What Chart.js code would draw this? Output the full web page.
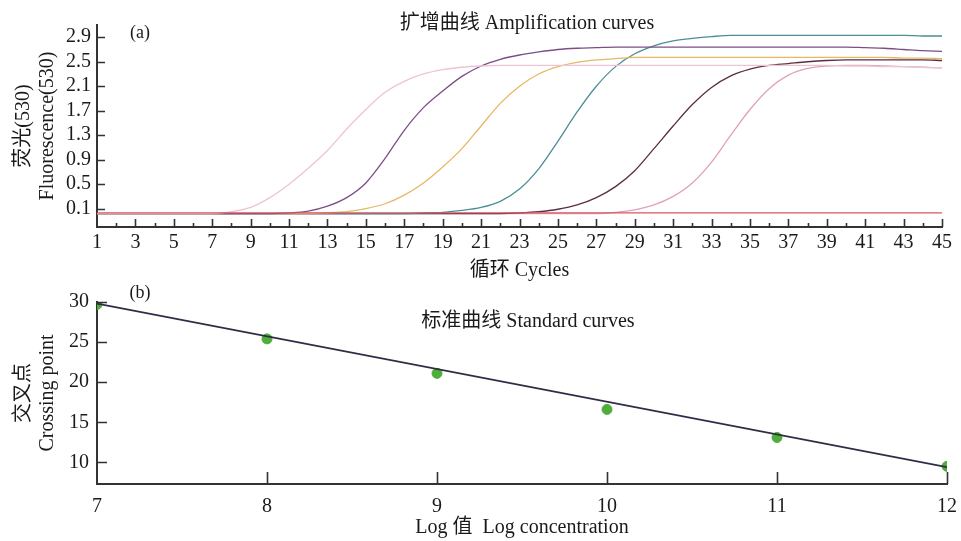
<!DOCTYPE html>
<html>
<head>
<meta charset="utf-8">
<script src="https://cdn.jsdelivr.net/npm/chart.js@4.4.0/dist/chart.umd.min.js"></script>
<style>
  body { margin: 0; background: #fff; }
  #page { position: relative; width: 961px; height: 541px; overflow: hidden; font-family: 'Liberation Serif', 'Noto Sans CJK SC', serif; color: #1a1a1a; }
  .box { position: absolute; left: 0; }
  .lbl { position: absolute; transform: translate(-50%, -50%); white-space: nowrap; line-height: 1; }
</style>
</head>
<body>
<div id="page">
  <div class="box" style="top:0"><canvas id="amp" width="961" height="290"></canvas></div>
  <div class="box" style="top:280px"><canvas id="std" width="961" height="261"></canvas></div>
  <div class="lbl" style="left:140px; top:32px; font-size:18px">(a)</div>
  <div class="lbl" style="left:527px; top:22px; font-size:20px">扩增曲线 Amplification curves</div>
  <div class="lbl" style="left:140px; top:292px; font-size:18px">(b)</div>
  <div class="lbl" style="left:528px; top:320px; font-size:20px">标准曲线 Standard curves</div>
</div>
<script>
// (a) amplification curves, fluorescence per cycle
const cycles = [1,2,3,4,5,6,7,8,9,10,11,12,13,14,15,16,17,18,19,20,21,22,23,24,25,26,27,28,29,30,31,32,33,34,35,36,37,38,39,40,41,42,43,44,45]
const cycleLabels = [1,3,5,7,9,11,13,15,17,19,21,23,25,27,29,31,33,35,37,39,41,43,45]
const fluoTicks = [0.1, 0.5, 0.9, 1.3, 1.7, 2.1, 2.5, 2.9]
const fluoMinor = [0.3, 0.7, 1.1, 1.5, 1.9, 2.3, 2.7, 3.1]

const curveA = [0.02,0.02,0.02,0.02,0.02,0.02,0.02,0.05,0.12,0.28,0.5,0.76,1.05,1.4,1.72,2.0,2.18,2.3,2.37,2.41,2.43,2.44,2.44,2.44,2.44,2.44,2.44,2.44,2.44,2.44,2.44,2.44,2.44,2.44,2.44,2.44,2.44,2.44,2.44,2.43,2.43,2.42,2.42,2.41,2.4]
const curveB = [0.02,0.02,0.02,0.02,0.02,0.02,0.02,0.02,0.02,0.02,0.03,0.06,0.14,0.28,0.52,0.92,1.38,1.75,2.02,2.26,2.43,2.54,2.61,2.66,2.7,2.72,2.73,2.74,2.74,2.74,2.74,2.74,2.74,2.74,2.74,2.74,2.74,2.74,2.74,2.74,2.73,2.72,2.7,2.68,2.67]
const curveC = [0.02,0.02,0.02,0.02,0.02,0.02,0.02,0.02,0.02,0.02,0.02,0.02,0.03,0.05,0.1,0.18,0.32,0.52,0.78,1.08,1.45,1.82,2.1,2.3,2.42,2.49,2.53,2.55,2.57,2.57,2.57,2.57,2.57,2.57,2.57,2.57,2.57,2.57,2.57,2.57,2.57,2.57,2.56,2.56,2.55]
const curveD = [0.02,0.02,0.02,0.02,0.02,0.02,0.02,0.02,0.02,0.02,0.02,0.02,0.02,0.02,0.02,0.02,0.02,0.03,0.04,0.07,0.12,0.22,0.42,0.75,1.2,1.68,2.1,2.42,2.63,2.76,2.84,2.88,2.91,2.93,2.93,2.93,2.93,2.93,2.93,2.93,2.93,2.93,2.93,2.92,2.92]
const curveE = [0.02,0.02,0.02,0.02,0.02,0.02,0.02,0.02,0.02,0.02,0.02,0.02,0.02,0.02,0.02,0.02,0.02,0.02,0.02,0.02,0.02,0.02,0.03,0.05,0.09,0.16,0.28,0.46,0.72,1.08,1.45,1.8,2.08,2.27,2.38,2.44,2.47,2.5,2.52,2.53,2.53,2.53,2.53,2.53,2.52]
const curveF = [0.02,0.02,0.02,0.02,0.02,0.02,0.02,0.02,0.02,0.02,0.02,0.02,0.02,0.02,0.02,0.02,0.02,0.02,0.02,0.02,0.02,0.02,0.02,0.02,0.02,0.02,0.02,0.04,0.08,0.16,0.3,0.52,0.86,1.3,1.72,2.06,2.28,2.39,2.43,2.44,2.44,2.43,2.42,2.41,2.4]
const negCtrl = [0.03,0.03,0.03,0.03,0.03,0.03,0.03,0.03,0.03,0.03,0.03,0.03,0.03,0.03,0.03,0.03,0.03,0.03,0.03,0.03,0.03,0.03,0.03,0.03,0.03,0.03,0.03,0.03,0.03,0.03,0.03,0.03,0.03,0.03,0.03,0.03,0.03,0.03,0.03,0.03,0.03,0.03,0.03,0.03,0.03]

// (b) standard curve
const logConc = [7, 8, 9, 10, 11, 12]
const crossPoint = [29.7, 25.4, 21.1, 16.6, 13.1, 9.5]
const fitX = [7, 12]
const fitY = [29.8, 9.4]
const cpTicks = [10, 15, 20, 25, 30]

const fontFamily = "'Liberation Serif', 'Noto Sans CJK SC', serif"
Chart.defaults.font.family = fontFamily
Chart.defaults.color = '#1a1a1a'

// tick marks drawn inside the plot, like the original figure
const innerTicks = {
  id: 'innerTicks',
  afterDatasetsDraw(chart, args, opts) {
    const ctx = chart.ctx
    const area = chart.chartArea
    const xs = chart.scales.x
    const ys = chart.scales.y
    ctx.save()
    ctx.strokeStyle = '#333'
    ctx.lineWidth = 1.6
    ctx.beginPath()
    for (let t of xs.ticks) {
      if (t.value <= xs.min) continue
      let px = Math.round(xs.getPixelForValue(t.value)) + 0.5
      let len = opts.xMajor.includes(t.value) ? opts.xLong : opts.xShort
      ctx.moveTo(px, area.bottom)
      ctx.lineTo(px, area.bottom - len)
    }
    for (let t of ys.ticks) {
      if (t.value <= ys.min) continue
      let py = Math.round(ys.getPixelForValue(t.value)) + 0.5
      let len = opts.yMajor.includes(t.value) ? opts.yLong : opts.yShort
      ctx.moveTo(area.left, py)
      ctx.lineTo(area.left + len, py)
    }
    ctx.stroke()
    ctx.restore()
  }
}

var toPoints = (xs, ys) => xs.map((x, i) => ({x: x, y: ys[i]}))

var curve = (values, color) => ({
  data: toPoints(cycles, values),
  borderColor: color,
  borderWidth: 1.3,
  pointRadius: 0,
  cubicInterpolationMode: 'monotone'
})

var axisFont = { size: 20 }
var noGrid = { display: false, drawTicks: false, tickLength: 0 }
var axisLine = { display: true, color: '#333', width: 2 }

new Chart(document.getElementById('amp'), {
  type: 'line',
  data: {
    datasets: [
      curve(negCtrl, '#d9545f'),
      curve(curveA, '#ecc4d6'),
      curve(curveB, '#7b4f85'),
      curve(curveC, '#e8b766'),
      curve(curveD, '#4b8f96'),
      curve(curveE, '#5b2d42'),
      curve(curveF, '#e2a0ba')
    ]
  },
  options: {
    responsive: false,
    animation: false,
    layout: { padding: { top: 25, right: 19, left: 0, bottom: 0 } },
    plugins: {
      legend: { display: false },
      tooltip: { enabled: false },
      innerTicks: { xMajor: cycleLabels, xLong: 8, xShort: 4, yMajor: fluoTicks, yLong: 8, yShort: 5 }
    },
    scales: {
      x: {
        type: 'linear',
        min: 1,
        max: 45,
        grid: noGrid,
        border: axisLine,
        ticks: {
          stepSize: 1,
          autoSkip: false,
          maxRotation: 0,
          padding: 4,
          font: axisFont,
          callback: (v) => cycleLabels.includes(v) ? String(v) : ''
        },
        title: { display: true, text: '循环 Cycles', font: axisFont, padding: { top: 0, bottom: 7 } },
        afterFit: (scale) => { scale.height = 63 }
      },
      y: {
        min: -0.2,
        max: 3.1,
        grid: noGrid,
        border: axisLine,
        afterBuildTicks: (scale) => {
          scale.ticks = fluoTicks.concat(fluoMinor).sort((a, b) => a - b).map(v => ({ value: v }))
        },
        ticks: {
          padding: 6,
          font: axisFont,
          callback: (v) => fluoTicks.includes(v) ? v.toFixed(1) : ''
        },
        title: { display: true, text: ['荧光(530)', 'Fluorescence(530)'], font: axisFont, padding: { top: 12, bottom: 0 } },
        afterFit: (scale) => { scale.width = 97 }
      }
    }
  },
  plugins: [innerTicks]
})

new Chart(document.getElementById('std'), {
  type: 'scatter',
  data: {
    datasets: [
      {
        type: 'line',
        data: toPoints(fitX, fitY),
        borderColor: '#2d2d45',
        borderWidth: 1.8,
        pointRadius: 0
      },
      {
        data: toPoints(logConc, crossPoint),
        backgroundColor: '#4fae3a',
        borderColor: '#4fae3a',
        pointRadius: 5
      }
    ]
  },
  options: {
    responsive: false,
    animation: false,
    layout: { padding: { top: 22, right: 14, left: 0, bottom: 0 } },
    plugins: {
      legend: { display: false },
      tooltip: { enabled: false },
      innerTicks: { xMajor: logConc, xLong: 12, xShort: 12, yMajor: cpTicks, yLong: 10, yShort: 10 }
    },
    scales: {
      x: {
        type: 'linear',
        min: 7,
        max: 12,
        // hidden tick marks, but their length still pushes the labels down
        grid: { display: false, drawTicks: true, tickLength: 9 },
        border: axisLine,
        ticks: { stepSize: 1, maxRotation: 0, padding: 2, font: axisFont },
        title: { display: true, text: 'Log 值  Log concentration', font: axisFont, padding: { top: 0, bottom: 1 } },
        afterFit: (scale) => { scale.height = 57 }
      },
      y: {
        min: 7.3,
        max: 30,
        grid: noGrid,
        border: axisLine,
        afterBuildTicks: (scale) => {
          scale.ticks = cpTicks.map(v => ({ value: v }))
        },
        ticks: { padding: 8, font: axisFont },
        title: { display: true, text: ['交叉点', 'Crossing point'], font: axisFont, padding: { top: 12, bottom: 0 } },
        afterFit: (scale) => { scale.width = 97 }
      }
    }
  },
  plugins: [innerTicks]
})
</script>
</body>
</html>
